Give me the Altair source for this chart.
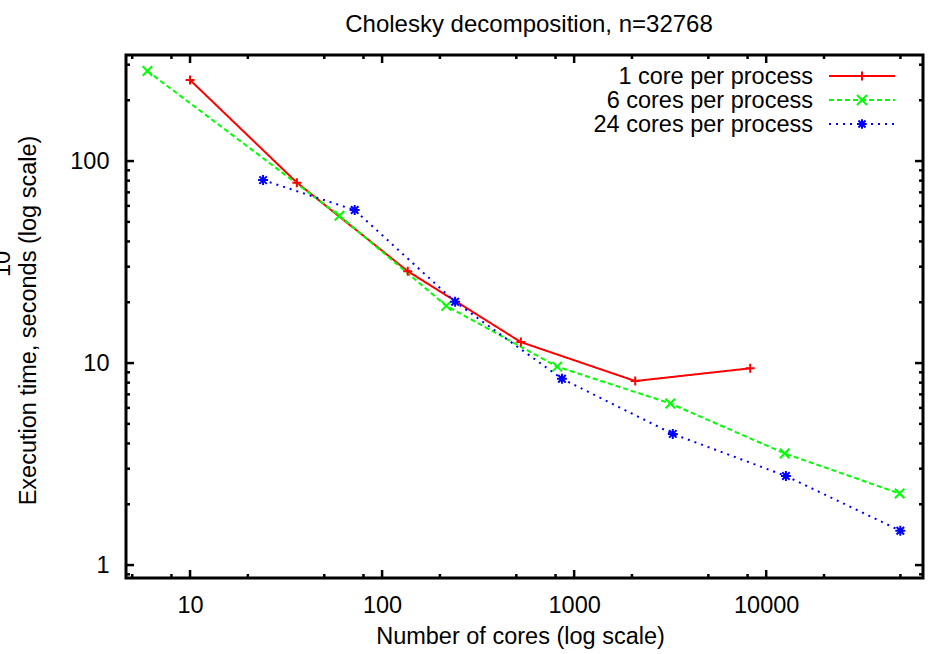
import altair as alt
import pandas as pd

TITLE = "Cholesky decomposition, n=32768"
X_TITLE = "Number of cores (log scale)"
Y_TITLE = "Execution time, seconds (log scale)"
STRAY_LABEL = "10"

series_names = ["1 core per process", "6 cores per process", "24 cores per process"]
cores_1 = [10, 36, 136, 528, 2080, 8256]
time_1 = [252, 78.2, 28.5, 12.7, 8.15, 9.42]
cores_6 = [6, 60, 216, 816, 3168, 12480, 49536]
time_6 = [279, 53.6, 19.2, 9.6, 6.31, 3.57, 2.26]
cores_24 = [24, 72, 240, 864, 3264, 12672, 49920]
time_24 = [80.5, 57.2, 20.1, 8.36, 4.46, 2.76, 1.48]

x_major = [10, 100, 1000, 10000]
x_minor = [5, 8, 20, 50, 80, 200, 500, 800, 2000, 5000, 8000, 20000, 50000]
y_major = [1, 10, 100]
y_minor = [0.9, 2, 3, 4, 5, 6, 7, 8, 9, 20, 30, 40, 50, 60, 70, 80, 90, 200, 300]
x_domain = [4.64, 65536]
y_domain = [0.863, 335]

colors = ["#ff0000", "#00ff00", "#0000ff"]
dashes = [[1, 0], [5, 3], [2, 5]]
PLUS = "M-1,0L1,0M0,-1L0,1"
CROSS = "M-1,-1L1,1M-1,1L1,-1"
STAR = "M-1,0L1,0M0,-1L0,1M-0.75,-0.75L0.75,0.75M-0.75,0.75L0.75,-0.75"
shapes = [PLUS, CROSS, STAR]
sizes = [81, 100, 90]

FONT = "Liberation Sans"
FS = 23.5
W, H = 797, 523

rows = []
for name, xs_, ys_ in [(series_names[0], cores_1, time_1),
                       (series_names[1], cores_6, time_6),
                       (series_names[2], cores_24, time_24)]:
    for c, t in zip(xs_, ys_):
        rows.append({"series": name, "cores": c, "time": t})
df = pd.DataFrame(rows)

xs = alt.Scale(type="log", domain=x_domain, nice=False)
ys = alt.Scale(type="log", domain=y_domain, nice=False)

x_axis = alt.Axis(values=x_major, format="d", title=X_TITLE, labelPadding=34,
                  labelBaseline="alphabetic", titleX=394, titleY=65,
                  titleBaseline="alphabetic", titleAlign="center", titleAngle=0)
y_axis = alt.Axis(values=y_major, format="d", title=Y_TITLE, labelPadding=17,
                  titleX=-91, titleY=265, titleAngle=270,
                  titleBaseline="alphabetic", titleAlign="center")

layers = []

color_enc = alt.Color("series:N", scale=alt.Scale(domain=series_names, range=colors), legend=None)

lines = alt.Chart(df).mark_line(strokeWidth=2).encode(
    x=alt.X("cores:Q", scale=xs, axis=x_axis),
    y=alt.Y("time:Q", scale=ys, axis=y_axis),
    color=color_enc,
    strokeDash=alt.StrokeDash("series:N", scale=alt.Scale(domain=series_names, range=dashes), legend=None),
)
points = alt.Chart(df).mark_point(filled=False, opacity=1, strokeWidth=2).encode(
    x=alt.X("cores:Q", scale=xs, axis=x_axis),
    y=alt.Y("time:Q", scale=ys, axis=y_axis),
    color=color_enc,
    shape=alt.Shape("series:N", scale=alt.Scale(domain=series_names, range=shapes), legend=None),
    size=alt.Size("series:O", scale=alt.Scale(domain=series_names, range=sizes), legend=None),
)
layers += [lines, points]


# tick marks (inward, all four sides)
def xticks(vals, L):
    d = pd.DataFrame({"v": vals})
    b = alt.Chart(d).mark_rule(color="black", strokeWidth=2.5).encode(
        x=alt.X("v:Q", scale=xs, axis=x_axis), y=alt.value(H), y2=alt.value(H - L))
    t = alt.Chart(d).mark_rule(color="black", strokeWidth=2.5).encode(
        x=alt.X("v:Q", scale=xs, axis=x_axis), y=alt.value(0), y2=alt.value(L))
    return [b, t]


def yticks(vals, L):
    d = pd.DataFrame({"v": vals})
    l = alt.Chart(d).mark_rule(color="black", strokeWidth=2.5).encode(
        y=alt.Y("v:Q", scale=ys, axis=y_axis), x=alt.value(0), x2=alt.value(L))
    r = alt.Chart(d).mark_rule(color="black", strokeWidth=2.5).encode(
        y=alt.Y("v:Q", scale=ys, axis=y_axis), x=alt.value(W), x2=alt.value(W - L))
    return [l, r]


layers += xticks(x_major, 8) + xticks(x_minor, 4) + yticks(y_major, 8) + yticks(y_minor, 4)

# gnuplot-style key, top right
for i, name in enumerate(series_names):
    one = pd.DataFrame({"label": [name]})
    layers.append(alt.Chart(one).mark_text(align="right", baseline="alphabetic", fontSize=FS,
                                           font=FONT, color="black").encode(
        text="label:N", x=alt.value(687), y=alt.value(29 + 24 * i)))
    layers.append(alt.Chart(one).mark_rule(color=colors[i], strokeWidth=2, strokeDash=dashes[i]).encode(
        x=alt.value(703), x2=alt.value(769), y=alt.value(21 + 24 * i)))
    layers.append(alt.Chart(one).mark_point(shape=shapes[i], filled=False, color=colors[i], size=sizes[i],
                                            strokeWidth=2, opacity=1).encode(
        x=alt.value(736), y=alt.value(21 + 24 * i)))

# title
ttl = pd.DataFrame({"label": [TITLE]})
layers.append(alt.Chart(ttl).mark_text(align="center", baseline="alphabetic", fontSize=24,
                                       font=FONT, color="black").encode(
    text="label:N", x=alt.value(529 - 126), y=alt.value(32 - 55)))

stray = pd.DataFrame({"label": [STRAY_LABEL]})
layers.append(alt.Chart(stray).mark_text(angle=270, align="center", baseline="alphabetic",
                                         fontSize=FS, font=FONT, color="black").encode(
    text="label:N", x=alt.value(10 - 126), y=alt.value(264 - 55)))

chart = alt.layer(*layers).properties(
    width=W, height=H,
    padding={"left": 126, "top": 55, "right": 14, "bottom": 76},
    autosize=alt.AutoSizeParams(type="none"),
).configure_view(stroke="black", strokeWidth=3).configure_axis(
    labelFont=FONT, titleFont=FONT, labelFontSize=FS, titleFontSize=FS,
    labelColor="black", titleColor="black", titleFontWeight="normal",
    grid=False, domain=False, ticks=False, tickSize=0, labelFlush=False,
)

chart.save("out.html", embed_options={"renderer": "svg", "actions": False})
